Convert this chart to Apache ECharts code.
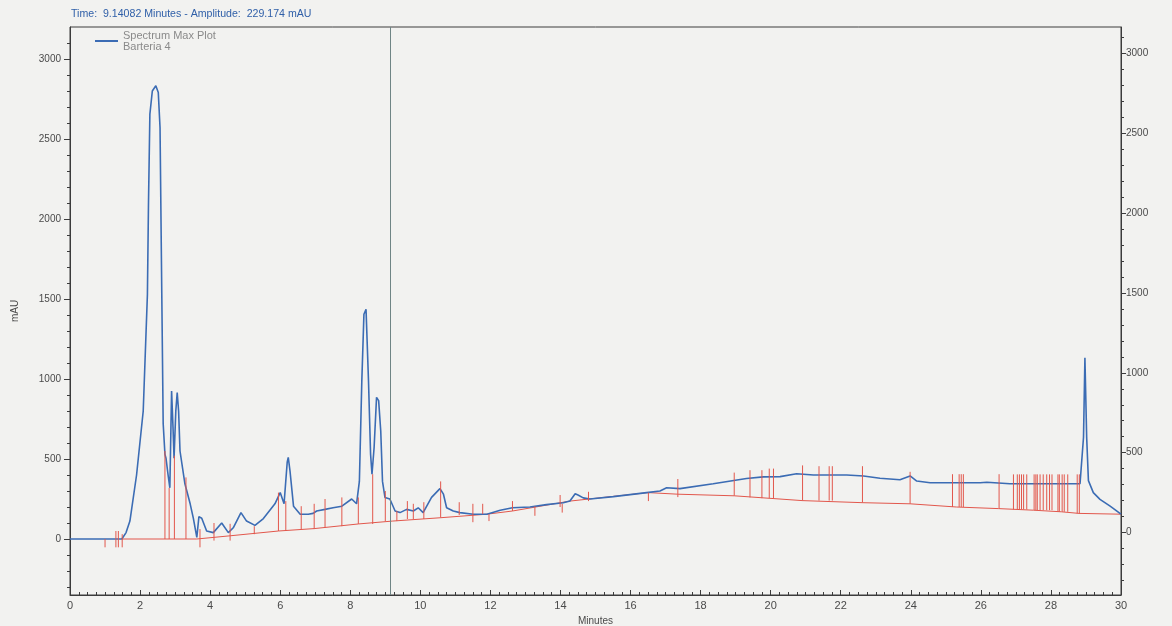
<!DOCTYPE html>
<html>
<head>
<meta charset="utf-8">
<script src="https://cdn.jsdelivr.net/npm/echarts@6/dist/echarts.min.js"></script>
<style>
html,body{margin:0;padding:0;background:#f2f2f0;}
#chart{width:1172px;height:626px;}
</style>
</head>
<body>
<div id="chart"></div>
<script>
// ---- Data ----
const titleText = 'Time:  9.14082 Minutes - Amplitude:  229.174 mAU';
const legendLine1 = 'Spectrum Max Plot';
const legendLine2 = 'Barteria 4';
const cursorTime = 9.14082;

// Blue trace: retention time (min) and absorbance (mAU)
const blueTime = [0,1.0,1.48,1.6,1.71,1.9,2.09,2.21,2.24,2.28,2.35,2.45,2.52,2.57,2.62,2.66,2.71,2.74,2.8,2.85,2.9,2.94,2.97,3.02,3.06,3.1,3.14,3.28,3.43,3.52,3.62,3.68,3.76,3.9,4.09,4.33,4.52,4.66,4.88,5.04,5.28,5.52,5.85,6.0,6.11,6.2,6.23,6.28,6.38,6.57,6.8,6.94,7.04,7.28,7.51,7.76,8.04,8.18,8.26,8.33,8.39,8.45,8.52,8.58,8.62,8.68,8.75,8.81,8.87,8.92,8.99,9.13,9.28,9.42,9.61,9.8,9.94,10.08,10.32,10.56,10.66,10.75,10.94,11.13,11.51,11.9,12.28,12.63,13.13,13.6,14.08,14.27,14.42,14.5,14.65,14.84,15.51,16.46,16.84,17.03,17.41,18.36,19.31,19.79,20.27,20.74,21.22,22.17,22.65,23.12,23.69,23.98,24.17,24.55,25.98,26.17,26.83,28.83,28.93,28.97,29.0,29.02,29.07,29.21,29.4,29.69,29.97,30];
const blueMAU  = [0,0,0,40,112,400,800,1530,2090,2655,2800,2833,2790,2570,1530,720,530,505,400,320,925,700,505,800,915,800,550,345,220,130,10,140,130,50,40,100,40,70,165,112,85,128,220,290,220,480,510,425,205,155,155,160,175,185,195,205,250,220,360,990,1405,1435,990,530,405,570,885,865,675,360,260,250,175,165,185,175,195,165,260,315,280,195,175,165,155,155,180,195,200,215,227,237,283,275,257,250,265,290,300,320,315,345,378,388,390,408,400,400,394,380,370,394,362,352,352,355,345,345,636,1133,1133,636,365,290,248,205,160,155];

// Red integration baseline
const baseTime = [1.48,3.62,4.57,5.95,6.97,8.23,9.2,10.58,11.9,12.63,14.27,16.5,17.35,18.96,20.9,22.62,23.98,25.3,26.5,27.5,28.3,28.8,30];
const baseMAU  = [0,0,20,50,65,94,112,133,155,175,237,290,280,270,240,227,220,200,190,180,170,160,155];

// Red peak drop / event lines: time, lower end, upper end (mAU)
const dropTime = [1.0,1.31,1.38,1.49,2.71,2.83,2.98,3.31,3.71,4.11,4.57,5.26,5.95,6.16,6.6,6.97,7.28,7.76,8.23,8.64,9.0,9.33,9.63,9.8,10.1,10.58,11.11,11.5,11.78,11.96,12.63,13.27,13.99,14.05,14.8,16.51,17.35,18.96,19.41,19.75,19.96,20.08,20.91,21.38,21.67,21.76,22.62,23.98,25.19,25.38,25.44,25.5,26.52,26.93,27.04,27.1,27.16,27.22,27.31,27.52,27.57,27.61,27.69,27.78,27.88,27.96,28.03,28.2,28.24,28.32,28.38,28.48,28.75,28.81];
const dropLow  = [-52,-52,-52,-52,0,0,0,0,-52,-10,-10,30,50,50,62,62,70,80,94,94,112,112,125,125,125,133,150,105,155,112,175,145,200,165,237,237,262,270,260,255,255,255,240,240,240,240,227,220,200,200,200,200,190,185,185,185,185,185,185,180,180,180,180,180,180,180,180,170,170,170,170,170,160,160];
const dropHigh = [0,50,50,30,550,320,520,385,62,100,95,80,290,237,205,220,250,260,260,405,300,175,237,220,230,360,230,220,220,155,237,205,275,220,295,290,375,415,430,430,440,440,460,455,455,455,455,420,405,405,405,405,405,404,404,404,404,404,404,404,404,404,404,404,404,404,404,404,404,404,404,404,404,404];

// Axis ticks / labels
const xTickLabels = [0,2,4,6,8,10,12,14,16,18,20,22,24,26,28,30];
const yLabelValues = [0,500,1000,1500,2000,2500,3000];
const yMinorValues = [-300,-200,-100,0,100,200,300,400,500,600,700,800,900,1000,1100,1200,1300,1400,1500,1600,1700,1800,1900,2000,2100,2200,2300,2400,2500,2600,2700,2800,2900,3000,3100];

// ---- Build series data ----
const blueData = blueTime.map((t, i) => [t, blueMAU[i]]);
const baseData = baseTime.map((t, i) => [t, baseMAU[i]]);
const dropData = [];
dropTime.forEach((t, i) => {
  dropData.push([t, dropLow[i]]);
  dropData.push([t, dropHigh[i]]);
  dropData.push([t, '-']);
});

const labelFont = { color: '#4a4a4a', fontSize: 10, fontFamily: 'Liberation Sans, Arial, sans-serif' };
const axisLineStyle = { color: '#3c3c3c', width: 1 };
const plain = v => String(v);

const chart = echarts.init(document.getElementById('chart'), null, { renderer: 'canvas' });
chart.setOption({
  backgroundColor: '#f2f2f0',
  animation: false,
  title: {
    text: titleText,
    left: 66, top: 4,
    textStyle: { color: '#2f5fa8', fontSize: 10.6, fontWeight: 'normal', fontFamily: 'Liberation Sans, Arial, sans-serif' }
  },
  legend: {
    data: [{ name: 'blue', icon: 'rect' }],
    left: 90, top: 25,
    itemWidth: 23, itemHeight: 2,
    formatter: () => legendLine1 + '\n' + legendLine2,
    textStyle: { color: '#8a8a8a', fontSize: 11, lineHeight: 11, fontFamily: 'Liberation Sans, Arial, sans-serif' },
    itemGap: 10
  },
  grid: {
    left: 70, right: 51, top: 27, bottom: 31,
    outerBoundsMode: 'none',
    containLabel: false,
    show: true, borderColor: '#3c3c3c', borderWidth: 1, backgroundColor: 'transparent'
  },
  xAxis: {
    type: 'value', min: 0, max: 30, interval: 2,
    name: 'Minutes', nameLocation: 'middle', nameGap: 17,
    nameTextStyle: { color: '#4a4a4a', fontSize: 10, fontFamily: 'Liberation Sans Narrow, Liberation Sans, Arial, sans-serif' },
    axisLine: { show: true, onZero: false, lineStyle: axisLineStyle },
    axisTick: { show: true, inside: true, length: 5, lineStyle: axisLineStyle },
    minorTick: { show: true, splitNumber: 8, length: 3, lineStyle: axisLineStyle },
    axisLabel: { color: '#4a4a4a', fontSize: 11, margin: 5, fontFamily: 'Liberation Sans Narrow, Liberation Sans, Arial, sans-serif',
      formatter: v => (xTickLabels.indexOf(v) >= 0 ? String(v) : '') },
    splitLine: { show: false }
  },
  yAxis: [
    {
      type: 'value', min: -350, max: 3200, position: 'left',
      name: 'mAU', nameLocation: 'middle', nameGap: 50,
      nameTextStyle: { color: '#4a4a4a', fontSize: 10, fontFamily: 'Liberation Sans, Arial, sans-serif' },
      axisLine: { show: true, lineStyle: axisLineStyle },
      axisTick: { show: true, length: 6, customValues: yLabelValues, lineStyle: axisLineStyle },
      axisLabel: Object.assign({ customValues: yLabelValues, margin: 9, formatter: plain }, labelFont),
      splitLine: { show: false }
    },
    {
      type: 'value', min: -350, max: 3200, position: 'left',
      axisLine: { show: false },
      axisTick: { show: true, length: 3, customValues: yMinorValues, lineStyle: axisLineStyle },
      axisLabel: { show: false },
      splitLine: { show: false }
    },
    {
      type: 'value', min: -390, max: 3163, position: 'right',
      axisLine: { show: true, lineStyle: axisLineStyle },
      axisTick: { show: true, length: 5, customValues: yLabelValues, lineStyle: axisLineStyle },
      axisLabel: Object.assign({ customValues: yLabelValues, margin: 5, formatter: plain }, labelFont),
      splitLine: { show: false }
    },
    {
      type: 'value', min: -390, max: 3163, position: 'right',
      axisLine: { show: false },
      axisTick: { show: true, length: 3, customValues: yMinorValues, lineStyle: axisLineStyle },
      axisLabel: { show: false },
      splitLine: { show: false }
    }
  ],
  series: [
    {
      name: 'blue', type: 'line', yAxisIndex: 0, data: blueData,
      symbol: 'none', smooth: false,
      lineStyle: { color: '#3b6cb4', width: 1.6 },
      itemStyle: { color: '#3b6cb4' },
      z: 3,
      markLine: {
        silent: true, symbol: 'none',
        label: { show: false },
        lineStyle: { color: '#6f8585', width: 1, type: 'solid' },
        data: [{ xAxis: cursorTime }]
      }
    },
    {
      name: 'baseline', type: 'line', yAxisIndex: 0, data: baseData,
      symbol: 'none', lineStyle: { color: '#e2574c', width: 1 }, z: 2
    },
    {
      name: 'drops', type: 'line', yAxisIndex: 0, data: dropData,
      symbol: 'none', connectNulls: false,
      lineStyle: { color: '#e2574c', width: 1 }, z: 4
    }
  ]
});
</script>
</body>
</html>
